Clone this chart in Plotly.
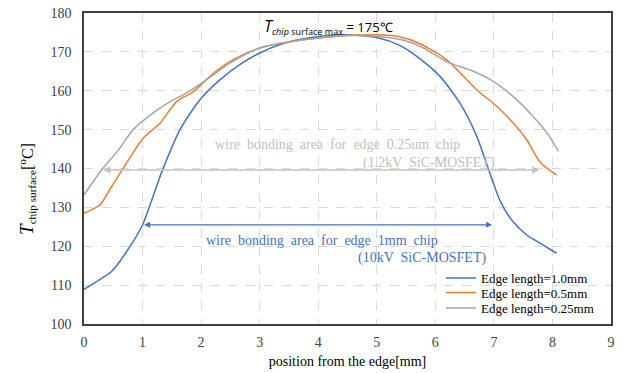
import plotly.graph_objects as go

# Edge length = 1.0 mm
x_10 = [0, 0.2, 0.47, 0.7, 0.99, 1.33, 1.64, 1.98, 2.32, 2.66, 3.0, 3.35, 3.8, 4.42, 5.0, 5.4, 5.74, 6.08, 6.42, 6.71, 6.88, 7.1, 7.3, 7.56, 7.79, 8.07]
y_10 = [108.9, 110.8, 113.5, 118.0, 125.2, 139.2, 150.0, 157.7, 162.8, 166.7, 169.7, 171.9, 173.5, 174.4, 173.7, 171.6, 168.2, 163.7, 156.8, 148.2, 141.0, 131.9, 126.8, 122.9, 120.8, 118.2]

# Edge length = 0.5 mm
x_05 = [0, 0.27, 0.47, 0.67, 1.01, 1.30, 1.58, 1.87, 2.21, 2.55, 3.0, 3.6, 4.5, 5.0, 5.35, 5.74, 6.19, 6.71, 7.05, 7.33, 7.56, 7.79, 8.07]
y_05 = [128.5, 130.6, 135.3, 140.1, 147.8, 151.7, 157.2, 159.8, 164.5, 168.0, 171.0, 172.8, 174.2, 174.4, 174.0, 172.1, 168.0, 160.2, 156.0, 151.7, 147.4, 141.6, 138.3]

# Edge length = 0.25 mm
x_025 = [0, 0.3, 0.59, 0.84, 1.2, 1.47, 1.70, 2.09, 2.49, 3.0, 3.6, 4.5, 5.0, 5.5, 5.8, 6.19, 6.65, 6.99, 7.33, 7.67, 7.93, 8.1]
y_025 = [133.2, 139.6, 144.8, 150.0, 154.5, 157.2, 159.0, 162.8, 167.1, 171.0, 172.8, 174.2, 174.0, 172.8, 171.0, 167.5, 165.0, 162.4, 158.5, 153.4, 148.7, 144.4]

x_ticks = [0, 1, 2, 3, 4, 5, 6, 7, 8, 9]
y_ticks = [100, 110, 120, 130, 140, 150, 160, 170, 180]

BLUE = "#4472c4"
ORANGE = "#ed7d31"
GRAY = "#a5a5a5"
SERIF = "Liberation Serif"

fig = go.Figure()
fig.add_trace(go.Scatter(x=x_10, y=y_10, mode="lines", name="Edge length=1.0mm", legend="legend",
                         line=dict(color=BLUE, width=1.5, shape="spline", smoothing=0.7)))
fig.add_trace(go.Scatter(x=x_05, y=y_05, mode="lines", name="Edge length=0.5mm", legend="legend2",
                         line=dict(color=ORANGE, width=1.5, shape="spline", smoothing=0.7)))
fig.add_trace(go.Scatter(x=x_025, y=y_025, mode="lines", name="Edge length=0.25mm", legend="legend3",
                         line=dict(color=GRAY, width=1.5, shape="spline", smoothing=0.7)))

ann = []
# peak label
ann.append(dict(x=4.17, y=176.6, xref="x", yref="y", showarrow=False,
                text="<span style='font-size:16px'><i>T</i></span><sub><i>chip</i> surface max</sub> = 175℃",
                font=dict(family="Open Sans", size=13, color="#000000")))
# gray double arrow
ann.append(dict(x=7.78, y=139.6, ax=0.3, ay=139.6, xref="x", yref="y", axref="x", ayref="y",
                showarrow=True, arrowhead=2, startarrowhead=2, arrowside="end+start",
                arrowsize=1, arrowwidth=1.5, arrowcolor="#c4c4c4", text=""))
ann.append(dict(x=4.33, y=146.1, xref="x", yref="y", showarrow=False,
                text="wire  bonding  area  for  edge  0.25um  chip",
                font=dict(family=SERIF, size=14, color="#bfbfbf")))
ann.append(dict(x=7.05, y=141.5, xref="x", yref="y", showarrow=False, xanchor="right",
                text="(1.2kV  SiC-MOSFET)",
                font=dict(family=SERIF, size=14, color="#bfbfbf")))
# blue double arrow
ann.append(dict(x=6.97, y=125.5, ax=1.0, ay=125.5, xref="x", yref="y", axref="x", ayref="y",
                showarrow=True, arrowhead=2, startarrowhead=2, arrowside="end+start",
                arrowsize=1, arrowwidth=1.2, arrowcolor=BLUE, text=""))
ann.append(dict(x=4.07, y=121.6, xref="x", yref="y", showarrow=False,
                text="wire  bonding  area  for  edge  1mm  chip",
                font=dict(family=SERIF, size=14, color=BLUE)))
ann.append(dict(x=6.9, y=117.0, xref="x", yref="y", showarrow=False, xanchor="right",
                text="(10kV  SiC-MOSFET)",
                font=dict(family=SERIF, size=14, color=BLUE)))
# y-axis title
ann.append(dict(x=-0.133, y=0.434, xref="paper", yref="paper", showarrow=False, textangle=-90,
                text="<span style='font-size:19px'><i>T</i></span><sub>chip surface</sub>[<sup>o</sup>C]",
                font=dict(family=SERIF, size=16, color="#000000")))

leg_common = dict(xanchor="left", yanchor="middle", bgcolor="rgba(0,0,0,0)",
                  font=dict(family=SERIF, size=13, color="#000000"), itemwidth=30)
fig.update_layout(
    width=634, height=373,
    margin=dict(l=84, r=23, t=13, b=49, autoexpand=False),
    paper_bgcolor="white", plot_bgcolor="white",
    annotations=ann,
    showlegend=True,
    legend=dict(x=0.6774, y=0.1479, **leg_common),
    legend2=dict(x=0.6774, y=0.1013, **leg_common),
    legend3=dict(x=0.6774, y=0.0514, **leg_common),
    font=dict(family=SERIF, color="#404040"),
)
fig.update_xaxes(range=[0, 9], tickvals=x_ticks, ticktext=[str(v) for v in x_ticks],
                 showgrid=True, gridcolor="#d9d9d9", griddash="dash", gridwidth=1,
                 showline=True, linecolor="#404040", linewidth=1.5, mirror=True,
                 ticks="", zeroline=False, ticklabelstandoff=4, automargin=False,
                 tickfont=dict(family=SERIF, size=14, color="#404040"),
                 title=dict(text="position from the edge[mm]", standoff=8,
                            font=dict(family=SERIF, size=14, color="#000000")))
fig.update_yaxes(range=[100, 180], tickvals=y_ticks, ticktext=[str(v) for v in y_ticks],
                 showgrid=True, gridcolor="#d9d9d9", griddash="dash", gridwidth=1,
                 showline=True, linecolor="#404040", linewidth=1.5, mirror=True,
                 ticks="", zeroline=False, ticklabelstandoff=8, automargin=False,
                 tickfont=dict(family=SERIF, size=14, color="#404040"))

fig.write_html("out.html")
